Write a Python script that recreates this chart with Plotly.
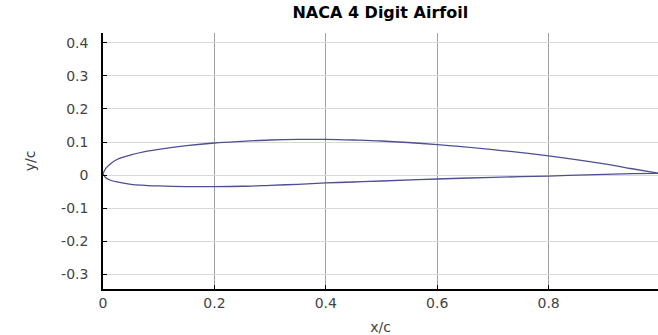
import plotly.graph_objects as go

# Data
x_pts = [0, 0.005, 0.0125, 0.025, 0.05, 0.075, 0.1, 0.15, 0.2, 0.25, 0.3, 0.35,
         0.4, 0.45, 0.5, 0.6, 0.7, 0.8, 0.9, 0.95, 1.0]
upper_y = [0.004, 0.020, 0.033, 0.047, 0.061, 0.071, 0.078, 0.089, 0.097, 0.102, 0.106,
           0.108, 0.108, 0.106, 0.103, 0.092, 0.077, 0.058, 0.034, 0.019, 0.005]
lower_y = [0.004, -0.008, -0.015, -0.021, -0.028, -0.031, -0.033, -0.035, -0.035, -0.034,
           -0.031, -0.028, -0.024, -0.021, -0.018, -0.012, -0.007, -0.003, 0.002,
           0.004, 0.005]
x_ticks = [0, 0.2, 0.4, 0.6, 0.8, 1]
x_tick_text = ["0", "0.2", "0.4", "0.6", "0.8", "1"]
y_ticks = [-0.3, -0.2, -0.1, 0, 0.1, 0.2, 0.3, 0.4]
y_tick_text = ["-0.3", "-0.2", "-0.1", "0", "0.1", "0.2", "0.3", "0.4"]

line_color = "#4d4f92"
font_family = "DejaVu Sans"

fig = go.Figure()
fig.add_trace(go.Scatter(x=x_pts, y=upper_y, mode="lines", line_shape="spline",
                         line=dict(color=line_color, width=1.3), showlegend=False))
fig.add_trace(go.Scatter(x=x_pts, y=lower_y, mode="lines", line_shape="spline",
                         line=dict(color=line_color, width=1.3), showlegend=False))

fig.update_layout(
    width=658, height=335,
    margin=dict(l=103, r=0, t=33, b=46, autoexpand=False),
    paper_bgcolor="white", plot_bgcolor="white",
    title=dict(text="<b>NACA 4 Digit Airfoil</b>", x=0.578, xanchor="center",
               y=0.962, yanchor="middle",
               font=dict(family=font_family, size=16, color="black")),
    font=dict(family=font_family, size=13, color="#444444"),
)
fig.update_xaxes(
    range=[0, 0.9964], tickvals=x_ticks, ticktext=x_tick_text,
    showgrid=True, gridcolor="#a0a0a0", gridwidth=1,
    showline=True, linecolor="black", linewidth=1.5,
    ticks="inside", ticklen=4, tickcolor="black",
    zeroline=False, automargin=False,
    title=dict(text="x/c", font=dict(family=font_family, size=14, color="#444444")),
    tickfont=dict(family=font_family, size=14, color="#444444"),
)
fig.update_yaxes(
    range=[-0.345, 0.43], tickvals=y_ticks, ticktext=y_tick_text,
    showgrid=True, gridcolor="#d8d8d8", gridwidth=1,
    showline=True, linecolor="black", linewidth=1.5,
    ticks="inside", ticklen=4, tickcolor="black",
    zeroline=False, ticklabelstandoff=10, automargin=True,
    title=dict(text="y/c", font=dict(family=font_family, size=14, color="#444444"),
               standoff=22),
    tickfont=dict(family=font_family, size=14, color="#444444"),
)

fig.write_html("out.html", config={"displayModeBar": False},
               post_script="document.body.style.margin='0';")
